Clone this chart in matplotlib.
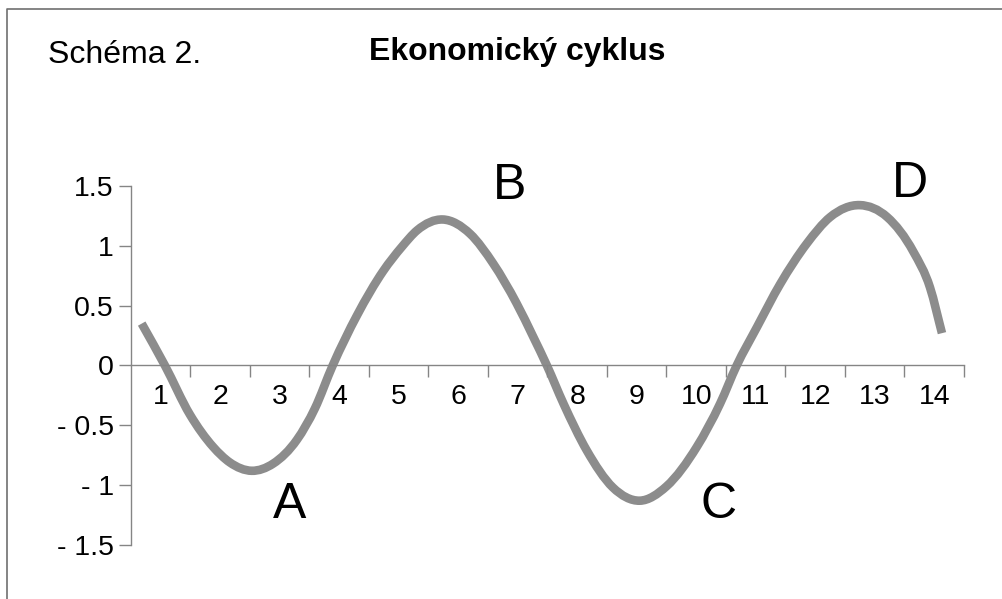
import numpy as np
import matplotlib
matplotlib.use('Agg')
import matplotlib.pyplot as plt
from matplotlib.lines import Line2D
from matplotlib.path import Path
from matplotlib.patches import PathPatch

# Curve points (x in category units, y value)
cycle_x = [0.18, 0.57, 0.99, 1.38, 1.66, 2.03, 2.39, 2.79, 3.09, 3.39, 3.80, 4.24,
           4.55, 4.81, 5.24, 5.70, 6.09, 6.48, 6.76, 6.99, 7.27, 7.66, 8.10, 8.55,
           9.00, 9.51, 9.90, 10.18, 10.52, 10.91, 11.36, 11.75, 12.25, 12.71, 13.15,
           13.43, 13.63]
cycle_y = [0.35, 0.0, -0.41, -0.68, -0.81, -0.88, -0.82, -0.62, -0.36, 0.0, 0.42, 0.79,
           0.99, 1.13, 1.22, 1.10, 0.85, 0.52, 0.24, 0.0, -0.32, -0.71, -1.02, -1.13,
           -1.01, -0.68, -0.32, 0.0, 0.32, 0.68, 1.02, 1.24, 1.34, 1.24, 0.95,
           0.65, 0.27]

categories = [str(i) for i in range(1, 15)]
y_ticks = [1.5, 1, 0.5, 0, -0.5, -1, -1.5]
y_labels = ['1.5', '1', '0.5', '0', '- 0.5', '- 1', '- 1.5']

# Phase labels
phase_names = ['A', 'B', 'C', 'D']
phase_x = [2.67, 6.37, 9.87, 13.09]
phase_y = [-1.17, 1.50, -1.17, 1.52]

plt.rcParams['font.family'] = ['Liberation Sans', 'DejaVu Sans']

fig = plt.figure(figsize=(10.03, 5.99), dpi=100)
ax = fig.add_axes([0.1306, 0.0902, 0.8305, 0.5993])

axis_col = '#858585'

# smoothed line through the points (cubic Hermite segments as Bezier curves)
xs = np.array(cycle_x)
ys = np.array(cycle_y)
h = np.diff(xs)
d = np.diff(ys) / h
m = np.empty_like(ys)
m[1:-1] = (d[:-1] * h[1:] + d[1:] * h[:-1]) / (h[:-1] + h[1:])
m[0] = d[0]
m[-1] = d[-1]
verts = [(xs[0], ys[0])]
codes = [Path.MOVETO]
for i in range(len(xs) - 1):
    verts += [(xs[i] + h[i] / 3, ys[i] + m[i] * h[i] / 3),
              (xs[i + 1] - h[i] / 3, ys[i + 1] - m[i + 1] * h[i] / 3),
              (xs[i + 1], ys[i + 1])]
    codes += [Path.CURVE4] * 3
curve = PathPatch(Path(verts, codes), facecolor='none', edgecolor='#8c8c8c',
                  lw=6.2, capstyle='butt', joinstyle='round')
ax.add_patch(curve)

ax.set_xlim(0, 14)
ax.set_ylim(-1.5, 1.5)

ax.spines['top'].set_visible(False)
ax.spines['right'].set_visible(False)
ax.spines['bottom'].set_position(('data', 0))
for s in ['left', 'bottom']:
    ax.spines[s].set_color(axis_col)
    ax.spines[s].set_linewidth(1)

ax.set_yticks(y_ticks)
ax.set_yticklabels(y_labels)
ax.tick_params(axis='y', direction='out', length=9, width=1, color=axis_col,
               pad=3.5, labelsize=20.5)

ax.set_xticks(np.arange(1, 15))
ax.set_xticklabels([])
ax.set_xticks(np.arange(0.5, 14, 1), minor=True)
ax.set_xticklabels(categories, minor=True)
ax.tick_params(axis='x', which='major', direction='out', length=8.6, width=1,
               color=axis_col)
ax.tick_params(axis='x', which='minor', length=0, pad=13, labelsize=20.5)

for name, px, py in zip(phase_names, phase_x, phase_y):
    ax.text(px, py, name, fontsize=36, ha='center', va='center', clip_on=False)

fig.text(0.0479, 0.8948, 'Schéma 2.', fontsize=23, ha='left', va='baseline')
fig.text(0.5155, 0.8998, 'Ekonomický cyklus', fontsize=23, fontweight='bold',
         ha='center', va='baseline')

# border frame (left and top edges)
fig.add_artist(Line2D([7 / 1003, 7 / 1003, 1], [0, 1 - 9 / 599, 1 - 9 / 599],
                      transform=fig.transFigure, color='#707070', lw=1.2))

fig.savefig('out.png', dpi=100)
